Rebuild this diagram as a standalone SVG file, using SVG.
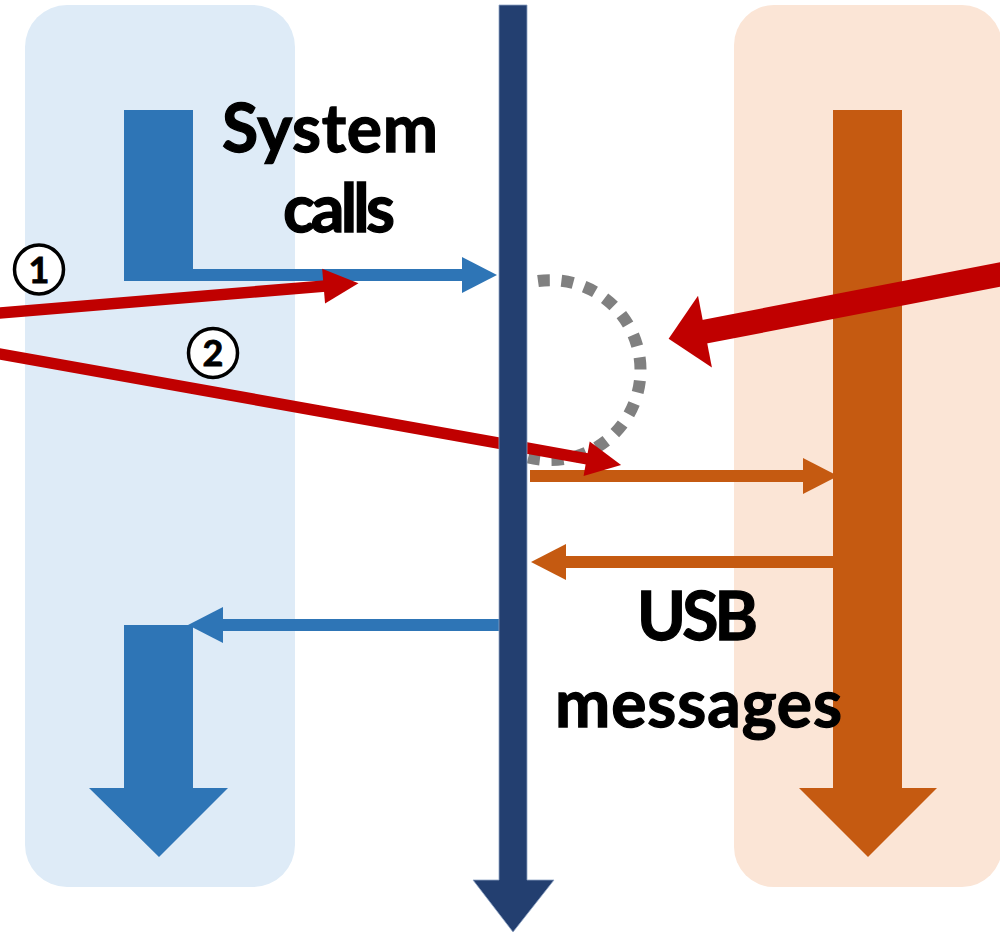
<svg xmlns="http://www.w3.org/2000/svg" width="1000" height="932" viewBox="0 0 1000 932">
  <style>
    .label { font-family: Lato, "Liberation Sans", Arial, sans-serif; font-weight: 700; fill: #000; stroke: #000; stroke-width: 1.3; }
    .big { font-size: 66px; }
    .num { font-size: 36px; stroke-width: 0.8; }
    .ring { fill: #fff; stroke: #000; stroke-width: 3.5; }
    .blue { fill: #2E75B6; }
    .orange { fill: #C55A11; }
    .navy { fill: #233F70; stroke: #8EA3C4; stroke-width: 0.8; }
    .bline { stroke: #2E75B6; stroke-width: 12; fill: none; }
    .oline { stroke: #C55A11; stroke-width: 12; fill: none; }
    .rline { stroke: #C00000; stroke-width: 11.5; fill: none; }
    .rline-thick { stroke: #C00000; stroke-width: 24; fill: none; }
  </style>
  <defs>
    <marker id="headBlue" markerUnits="userSpaceOnUse" markerWidth="40" markerHeight="40" refX="2" refY="0" viewBox="0 -20 40 40" orient="auto" overflow="visible">
      <path d="M0,-18 L35,0 L0,18 z" fill="#2E75B6"/>
    </marker>
    <marker id="headOrange" markerUnits="userSpaceOnUse" markerWidth="40" markerHeight="40" refX="2" refY="0" viewBox="0 -20 40 40" orient="auto" overflow="visible">
      <path d="M0,-18 L35,0 L0,18 z" fill="#C55A11"/>
    </marker>
    <marker id="headRed" markerUnits="userSpaceOnUse" markerWidth="40" markerHeight="40" refX="2" refY="0" viewBox="0 -20 40 40" orient="auto" overflow="visible">
      <path d="M0,-17.5 L35,0 L0,17.5 z" fill="#C00000"/>
    </marker>
    <marker id="headRedLarge" markerUnits="userSpaceOnUse" markerWidth="40" markerHeight="80" refX="2" refY="0" viewBox="0 -40 40 80" orient="auto" overflow="visible">
      <path d="M0,-36.5 L37,0 L0,36.5 z" fill="#C00000"/>
    </marker>
  </defs>

  <!-- lanes -->
  <g id="lane-host">
    <rect x="25" y="5" width="270" height="882" rx="42" fill="#DEEBF7"/>
  </g>
  <g id="lane-device">
    <rect x="734" y="5" width="268" height="882" rx="40" fill="#FBE5D6"/>
  </g>

  <!-- dotted loop near the boundary -->
  <g id="loop">
    <path d="M538,281 A90,90 0 1 1 527,457" fill="none" stroke="#808080" stroke-width="12" stroke-dasharray="12 11.5"/>
  </g>

  <!-- host flow: syscall entry and return -->
  <g id="host-flow">
    <rect class="blue" x="124" y="110" width="69" height="171"/>
    <path class="blue" d="M124,625 H193 V788 H228 L159,857 L89,788 H124 z"/>
  </g>

  <!-- device flow -->
  <g id="device-flow">
    <path class="orange" d="M833,110 H902 V788 H937 L868,857 L799,788 H833 z"/>
  </g>

  <g id="connectors">
    <line class="bline" x1="190" y1="275" x2="464" y2="275" marker-end="url(#headBlue)"/>
    <line class="bline" x1="499" y1="625" x2="221" y2="625" marker-end="url(#headBlue)"/>
    <line class="oline" x1="530" y1="476" x2="805" y2="476" marker-end="url(#headOrange)"/>
    <line class="oline" x1="836" y1="562" x2="564" y2="562" marker-end="url(#headOrange)"/>
    <line class="rline" x1="-5" y1="313.4" x2="325.6" y2="285.9" marker-end="url(#headRed)"/>
    <line class="rline-thick" x1="1015" y1="271.6" x2="703" y2="332" marker-end="url(#headRedLarge)"/>
    <line class="rline" x1="-5" y1="353.1" x2="588.6" y2="459.1" marker-end="url(#headRed)"/>
  </g>

  <!-- kernel boundary -->
  <g id="boundary">
    <path class="navy" d="M499,5 H527 V880 H554 L513,932 L473,880 H499 z"/>
  </g>

  <g id="label-syscalls">
    <text class="label big" x="330" y="152" text-anchor="middle" textLength="216">System</text>
    <text class="label big" x="339" y="232" text-anchor="middle" textLength="112">calls</text>
  </g>
  <g id="label-usb">
    <text class="label big" x="697.5" y="640" text-anchor="middle" textLength="121">USB</text>
    <text class="label big" x="698.5" y="727" text-anchor="middle" textLength="287">messages</text>
  </g>

  <g id="step-1">
    <circle class="ring" cx="39" cy="269.5" r="24.5"/>
    <text class="label num" x="39" y="282.5" text-anchor="middle">1</text>
  </g>
  <g id="step-2">
    <circle class="ring" cx="213" cy="353" r="24.5"/>
    <text class="label num" x="213" y="366" text-anchor="middle">2</text>
  </g>
</svg>
